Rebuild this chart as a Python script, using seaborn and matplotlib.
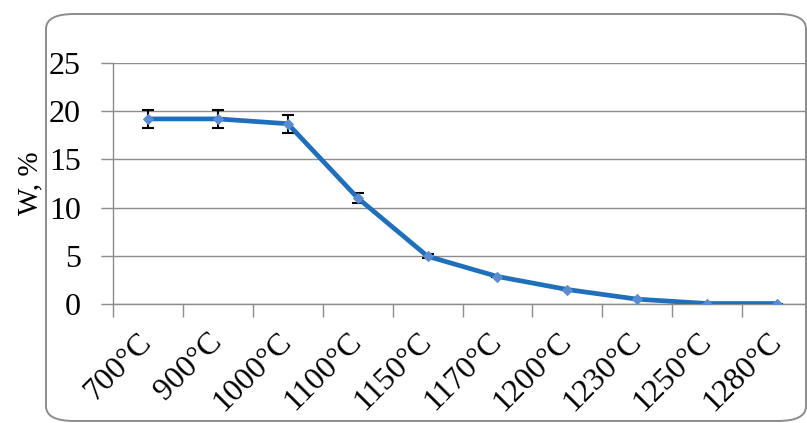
import numpy as np
import pandas as pd
import matplotlib
matplotlib.use("Agg")
import matplotlib.pyplot as plt
import seaborn as sns
from matplotlib.patches import FancyBboxPatch
from matplotlib.ticker import FixedLocator, NullFormatter

categories = ["700°C", "900°C", "1000°C", "1100°C", "1150°C", "1170°C",
              "1200°C", "1230°C", "1250°C", "1280°C"]
w_values = [19.2, 19.2, 18.7, 11.0, 4.95, 2.85, 1.5, 0.5, 0.05, 0.05]
w_errors = [0.95, 0.95, 0.95, 0.55, 0.2, 0.0, 0.0, 0.0, 0.0, 0.0]
y_ticks = [0, 5, 10, 15, 20, 25]

df = pd.DataFrame({"T": categories, "W": w_values, "err": w_errors})

sns.set_theme(style="white")
plt.rcParams["font.family"] = ["Liberation Serif", "DejaVu Serif"]

W, H = 807, 423
fig = plt.figure(figsize=(W / 100, H / 100), dpi=100)
fig.patch.set_facecolor("white")

# rounded chart border
border = FancyBboxPatch((46 / W, (H - 421) / H), (806 - 46) / W, (421 - 14) / H,
                        boxstyle="round,pad=0,rounding_size=0.035",
                        transform=fig.transFigure, facecolor="white",
                        edgecolor="#8c8c8c", linewidth=1.4, zorder=-5)
fig.patches.append(border)

ax = fig.add_axes([113 / W, (H - 304) / H, (812 - 113) / W, (304 - 63) / H])
ax.set_facecolor("none")
ax.set_zorder(1)

x = np.arange(len(categories))
ax.errorbar(x, df["W"], yerr=df["err"], fmt="none", ecolor="black",
            elinewidth=1.5, capsize=4, capthick=1.5, zorder=2)
sns.lineplot(data=df, x="T", y="W", ax=ax, color="#1f6fba", linewidth=3.4,
             marker="D", markersize=5, markerfacecolor="#5a8ccf",
             markeredgecolor="#5a8ccf", sort=False, zorder=3)

ax.set_xlim(-0.5, len(categories) - 0.5)
ax.set_ylim(0, 25)
ax.set_yticks(y_ticks)
ax.set_yticklabels([str(v) for v in y_ticks], fontsize=23, color="black")
ax.yaxis.grid(True, color="#8c8c8c", linewidth=1.0)
ax.xaxis.grid(False)

ax.set_xticks(x)
ax.set_xticklabels(categories, rotation=45, ha="right", va="center",
                   rotation_mode="anchor", fontsize=23, color="black")
ax.xaxis.set_minor_locator(FixedLocator(np.arange(-0.5, len(categories), 1.0)))
ax.xaxis.set_minor_formatter(NullFormatter())
ax.tick_params(axis="x", which="major", length=0, pad=24)
ax.tick_params(axis="x", which="minor", length=9, width=1.0, color="#8c8c8c", bottom=True)
ax.tick_params(axis="y", which="major", length=9, width=1.0, color="#8c8c8c", left=True, pad=14)

for s in ["top", "right"]:
    ax.spines[s].set_visible(False)
for s in ["left", "bottom"]:
    ax.spines[s].set_color("#8c8c8c")
    ax.spines[s].set_linewidth(1.0)

ax.set_xlabel("")
ax.set_ylabel("W, %", fontsize=21, color="black", labelpad=4)

fig.savefig("out.png", dpi=100)
